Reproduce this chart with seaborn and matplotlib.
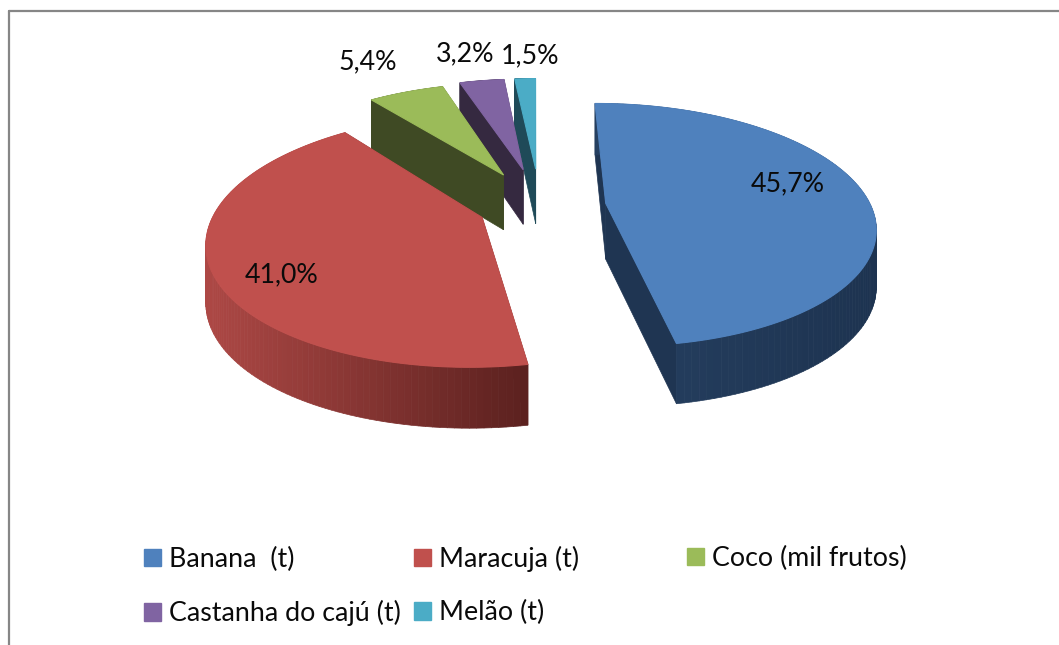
import numpy as np
import seaborn as sns
import matplotlib
matplotlib.use('Agg')
import matplotlib.pyplot as plt
from matplotlib.collections import PolyCollection
from matplotlib.colors import LinearSegmentedColormap
from matplotlib.patches import Patch
from matplotlib.path import Path
from matplotlib.transforms import Affine2D, Transform

# Data
categories = ['Banana  (t)', 'Maracuja (t)', 'Coco (mil frutos)', 'Castanha do cajú (t)', 'Melão (t)']
shares = [45.7, 41.0, 5.4, 3.2, 1.5]
explode = [0.25, 0.235, 0.31, 0.33, 0.33]

# Colours of the top faces and of the side walls (light end, dark end)
top_colors = ['#4F81BD', '#C0504D', '#9BBB59', '#8064A2', '#4BACC6']
wall_colors = [('#1D3350', '#264061'), ('#AD4845', '#5A201E'), ('#3F4A24', '#3F4A24'),
               ('#352940', '#352940'), ('#1F4A58', '#1F4A58')]
radial_colors = ['#1F3552', '#5A201E', '#3F4A24', '#352940', '#1F4A58']

# Where the percentages go, in pixels
label_xy = [(788, 184), (282, 275), (368, 62), (465, 54), (530, 56)]

# Tilted view of the pie
CX, CY = 540, 206
A, B, P = 265, 118.5, 0.178
DEPTH = 56


def project(u, v, drop=False):
    u, v = np.asarray(u, float), np.asarray(v, float)
    w = 1 + P * v
    x = CX + A * u / w
    y = CY - B * v / w
    if drop:
        y = y + DEPTH * (1 - 0.08 * v)
    return x, y


class TiltTransform(Transform):
    input_dims = output_dims = 2
    is_affine = False

    def transform_non_affine(self, values):
        x, y = project(values[:, 0], values[:, 1])
        return np.column_stack([x, y])

    def transform_path_non_affine(self, path):
        # flatten the curves at a large scale so the arcs stay smooth
        big = path.transformed(Affine2D().scale(1000))
        polys = big.to_polygons(closed_only=False)
        return Path(self.transform_non_affine(np.vstack(polys) / 1000))


sns.set_theme(style='white')
plt.rcParams['font.family'] = ['Lato', 'DejaVu Sans']

fig = plt.figure(figsize=(10.59, 6.45), dpi=100)
ax = fig.add_axes([0, 0, 1, 1])

palette = sns.color_palette(top_colors)
wedges, _ = ax.pie(shares, explode=explode, colors=palette, startangle=90.2,
                   counterclock=False)
ax.set_aspect('auto')
ax.set_xlim(0, 1059)
ax.set_ylim(645, 0)
ax.axis('off')

tilt = TiltTransform() + ax.transData
draw_order = [5, 4, 3, 2, 1]
for i, wedge in enumerate(wedges):
    z = draw_order[i]
    wedge.set_transform(tilt)
    wedge.set_zorder(z + 0.5)
    wedge.set_edgecolor(wedge.get_facecolor())
    wedge.set_linewidth(0.8)
    cu, cv = wedge.center

    # radial faces
    for theta in (wedge.theta1, wedge.theta2):
        eu = cu + np.cos(np.radians(theta))
        ev = cv + np.sin(np.radians(theta))
        x0, y0 = project([cu, eu], [cv, ev])
        x1, y1 = project([cu, eu], [cv, ev], drop=True)
        ax.fill(np.r_[x0, x1[::-1]], np.r_[y0, y1[::-1]], color=radial_colors[i],
                lw=0.5, zorder=z)

    # outer wall, cut in strips for the shading
    t = np.radians(np.linspace(wedge.theta1, wedge.theta2, 120))
    x0, y0 = project(cu + np.cos(t), cv + np.sin(t))
    x1, y1 = project(cu + np.cos(t), cv + np.sin(t), drop=True)
    strips = [[(x0[k], y0[k]), (x0[k + 1], y0[k + 1]), (x1[k + 1], y1[k + 1]), (x1[k], y1[k])]
              for k in range(len(t) - 1)]
    cmap = LinearSegmentedColormap.from_list('wall', wall_colors[i])
    pos = (x0[:-1] - x0.min()) / max(x0.max() - x0.min(), 1)
    if i == 0:
        pos = 1 - pos
    strip_colors = cmap(pos)
    ax.add_collection(PolyCollection(strips, facecolors=strip_colors, edgecolors=strip_colors,
                                     linewidths=0.5, zorder=z))

    ax.text(label_xy[i][0], label_xy[i][1], f'{shares[i]:.1f}%'.replace('.', ','),
            ha='center', va='center', fontsize=19.3, color='#0a0a0a', zorder=10)

# Chart frame: only the top and left edges are inside the crop
ax.plot([9, 1059], [10.5, 10.5], color='#868686', lw=1.6, zorder=1)
ax.plot([9, 9], [10.5, 645], color='#868686', lw=1.6, zorder=1)

# Legend: the first two columns follow the text, the third sits apart
handles = [Patch(color=c) for c in palette]
opts = dict(frameon=False, fontsize=19.3, handlelength=0.63, handleheight=0.63, handletextpad=0.3,
            borderpad=0, borderaxespad=0, labelcolor='#0a0a0a', bbox_transform=ax.transData,
            loc='upper left', labelspacing=1.05, columnspacing=0.5)
first = ax.legend([handles[0], handles[3], handles[1], handles[4]],
                  [categories[0], categories[3], categories[1], categories[4]],
                  ncol=2, bbox_to_anchor=(144, 546), **opts)
ax.add_artist(first)
ax.legend([handles[2]], [categories[2]], bbox_to_anchor=(687, 546), **opts)

fig.savefig('out.png', dpi=100)
